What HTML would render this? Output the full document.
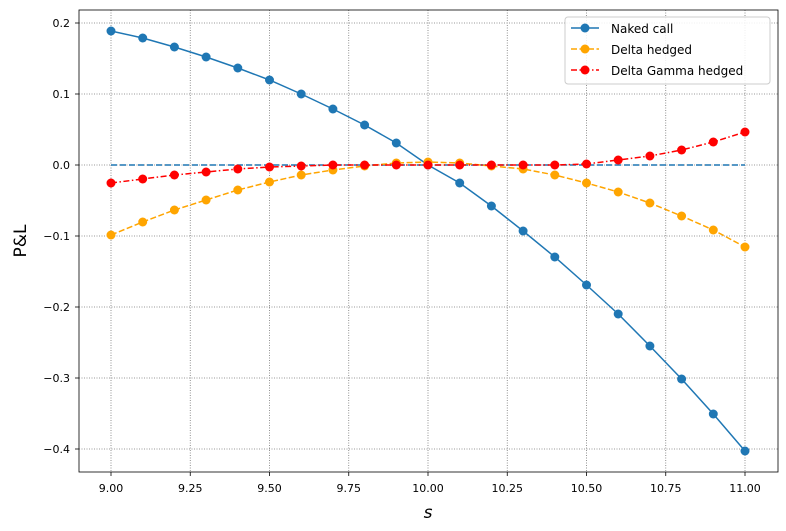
<!DOCTYPE html>
<html><head><meta charset="utf-8"><style>
body{margin:0;background:#fff}
svg{display:block;font-family:"DejaVu Sans","Liberation Sans",sans-serif}
</style></head><body>
<svg id="s" width="786" height="531" xmlns="http://www.w3.org/2000/svg">
<rect width="786" height="531" fill="#fff"/>
<g id="grid" stroke="#777" stroke-width="0.8" stroke-dasharray="1,1.5"></g>
<g font-size="11" fill="#000" text-anchor="middle">
<text x="111" y="492">9.00</text><text x="190.25" y="492">9.25</text><text x="269.5" y="492">9.50</text><text x="348.75" y="492">9.75</text><text x="428" y="492">10.00</text><text x="507.25" y="492">10.25</text><text x="586.5" y="492">10.50</text><text x="665.75" y="492">10.75</text><text x="745" y="492">11.00</text>
</g>
<g font-size="11" fill="#000" text-anchor="end">
<text x="70" y="27">0.2</text><text x="70" y="98">0.1</text><text x="70" y="169">0.0</text><text x="70" y="240">−0.1</text><text x="70" y="311">−0.2</text><text x="70" y="382">−0.3</text><text x="70" y="453">−0.4</text>
</g>
<text x="428" y="518" font-size="17" font-style="italic" text-anchor="middle">s</text>
<text x="26" y="241" font-size="17" text-anchor="middle" transform="rotate(-90 26 241)">P&amp;L</text>
<line x1="111" y1="165" x2="745" y2="165" stroke="#1f77b4" stroke-width="1.5" stroke-dasharray="6,3"/>
<g id="series"></g>
<rect x="79" y="10" width="699" height="462" fill="none" stroke="#000" stroke-width="0.8"/>
<g>
<rect x="565" y="17" width="205" height="67" rx="3" fill="#fff" fill-opacity="0.85" stroke="#ccc"/>
<line x1="571" y1="28" x2="599" y2="28" stroke="#1f77b4" stroke-width="1.5"/><circle cx="585" cy="28" r="4.5" fill="#1f77b4"/>
<line x1="571" y1="49" x2="599" y2="49" stroke="orange" stroke-width="1.5" stroke-dasharray="6,2.5"/><circle cx="585" cy="49" r="4.5" fill="orange"/>
<line x1="571" y1="70" x2="599" y2="70" stroke="red" stroke-width="1.5" stroke-dasharray="6,2.5,1.5,2.5"/><circle cx="585" cy="70" r="4.5" fill="red"/>
<text x="611" y="33" font-size="12">Naked call</text>
<text x="611" y="54" font-size="12">Delta hedged</text>
<text x="611" y="75" font-size="12">Delta Gamma hedged</text>
</g>
<g stroke="#000" stroke-width="0.8" id="ticks"></g>
</svg>
<script>
var ns="http://www.w3.org/2000/svg";
function el(p,t,a){var e=document.createElementNS(ns,t);for(var k in a)e.setAttribute(k,a[k]);p.appendChild(e);return e;}
var g=document.getElementById('grid'),tk=document.getElementById('ticks');
var xs=[111,190.25,269.5,348.75,428,507.25,586.5,665.75,745],ys=[23,94,165,236,307,378,449];
xs.forEach(function(x){el(g,'line',{x1:x,y1:10,x2:x,y2:472});el(tk,'line',{x1:x,y1:472,x2:x,y2:476});});
ys.forEach(function(y){el(g,'line',{x1:79,y1:y,x2:778,y2:y});el(tk,'line',{x1:75,y1:y,x2:79,y2:y});});
var S=document.getElementById('series');
var data=[
["#1f77b4","",[31,38,47,57,68,80,94,109,125,143,165,183,206,231,257,285,314,346,379,414,451]],
["orange","6,2.5",[235,222,210,200,190,182,175,170,166,163,162,163,166,169,175,183,192,203,216,230,247]],
["red","6,2.5,1.5,2.5",[183,179,175,172,169,167,166,165,165,165,165,165,165,165,165,164,160,156,150,142,132]]];
data.forEach(function(d){var pts=d[2].map(function(y,i){return (111+31.7*i)+","+y;}).join(" ");
var a={points:pts,fill:"none",stroke:d[0],"stroke-width":1.5};if(d[1])a["stroke-dasharray"]=d[1];el(S,'polyline',a);
d[2].forEach(function(y,i){el(S,'circle',{cx:111+31.7*i,cy:y,r:4.5,fill:d[0]});});});
</script>
</body></html>
